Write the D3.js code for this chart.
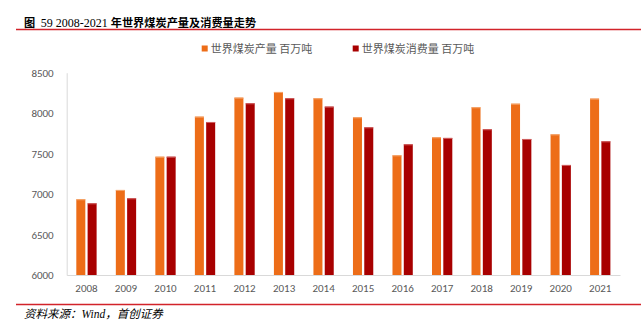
<!DOCTYPE html>
<html><head><meta charset="utf-8">
<script src="https://cdn.jsdelivr.net/npm/d3@7"></script>
<style>
body{margin:0;background:#fff;}
svg{display:block;}
</style></head>
<body>
<svg id="c" width="641" height="322"></svg>
<script>
const years = ["2008","2009","2010","2011","2012","2013","2014","2015","2016","2017","2018","2019","2020","2021"];
const production = [6936,7051,7462,7957,8192,8262,8184,7949,7479,7702,8073,8117,7738,8180];
const consumption = [6886,6948,7462,7891,8122,8184,8081,7825,7615,7694,7801,7681,7360,7652];
const yTicks = [6000,6500,7000,7500,8000,8500];
const seriesNames = ["世界煤炭产量 百万吨","世界煤炭消费量 百万吨"];
const colors = ["#ED6D18","#A80000"];

const svg = d3.select("#c");
const plotLeft = 66.7, plotRight = 620, plotTop = 72.7, plotBottom = 275;

const x = d3.scaleBand().domain(years).range([plotLeft, plotRight]).paddingInner(0).paddingOuter(0);
const y = d3.scaleLinear().domain([6000, 8500]).range([plotBottom, plotTop]);

// title
const title = svg.append("text").attr("x", 24).attr("y", 27)
  .attr("fill", "#000").style("white-space", "pre");
title.append("tspan").attr("font-family", "'Noto Sans CJK SC',sans-serif").attr("font-size", 11.2).attr("font-weight", "bold").text("图 ");
title.append("tspan").attr("font-family", "'Liberation Serif',serif").attr("font-size", 12).attr("font-weight", "normal").text(" 59 2008-2021 ");
title.append("tspan").attr("font-family", "'Noto Sans CJK SC',sans-serif").attr("font-size", 11.2).attr("font-weight", "bold").text("年世界煤炭产量及消费量走势");
svg.append("line").attr("x1", 16).attr("x2", 641).attr("y1", 29.5).attr("y2", 29.5)
  .attr("stroke", "#D2232A").attr("stroke-width", 1.3);

// legend
const legX = [201.7, 352.7];
seriesNames.forEach((n, i) => {
  svg.append("rect").attr("x", legX[i]).attr("y", 45.5).attr("width", 6).attr("height", 6).attr("fill", colors[i]);
  svg.append("text").attr("x", legX[i] + 9).attr("y", 52.5)
    .attr("font-family", "'Noto Sans CJK SC',sans-serif").attr("font-size", 11).attr("fill", "#595959")
    .text(n);
});

// y axis
const yAxis = d3.axisLeft(y).tickValues(yTicks).tickFormat(d3.format("d")).tickSize(0).tickPadding(13);
const gy = svg.append("g").attr("transform", `translate(${plotLeft},0)`).call(yAxis);
gy.select(".domain").attr("stroke", "#D9D9D9");
gy.selectAll("text").attr("font-family", "Calibri,'Liberation Sans','Open Sans',sans-serif")
  .attr("font-size", 11).attr("fill", "#595959");

// x axis
const xAxis = d3.axisBottom(x).tickSize(0).tickPadding(9);
const gx = svg.append("g").attr("transform", `translate(0,${plotBottom})`).call(xAxis);
gx.select(".domain").attr("stroke", "#D9D9D9");
gx.selectAll("text").attr("font-family", "Calibri,'Liberation Sans','Open Sans',sans-serif")
  .attr("font-size", 11).attr("fill", "#595959");

// bars
const bw = 9, gap = 2.3;
const data = years.map((yr, i) => ({yr, vals: [production[i], consumption[i]]}));
const g = svg.append("g");
const bx = (d, s) => x(d.yr) + x.bandwidth() / 2 + (s === 0 ? -(bw + gap / 2) : gap / 2);
[0, 1].forEach(s => {
  g.selectAll(null).data(data).enter().append("rect")
    .attr("x", d => bx(d, s))
    .attr("y", d => y(d.vals[s]))
    .attr("width", bw)
    .attr("height", d => plotBottom - y(d.vals[s]))
    .attr("fill", colors[s]);
  g.selectAll(null).data(data).enter().append("line")
    .attr("x1", d => bx(d, s))
    .attr("x2", d => bx(d, s) + bw)
    .attr("y1", d => y(d.vals[s]) + 0.5).attr("y2", d => y(d.vals[s]) + 0.5)
    .attr("stroke", s === 0 ? "#F5A76E" : "#D06060").attr("stroke-width", 1);
});

// footer
svg.append("line").attr("x1", 16).attr("x2", 641).attr("y1", 304.5).attr("y2", 304.5)
  .attr("stroke", "#D2232A").attr("stroke-width", 1.3);
svg.append("text").attr("x", 24).attr("y", 318)
  .attr("font-family", "'Liberation Serif','Noto Sans CJK SC',serif")
  .attr("font-style", "italic").attr("font-size", 11.5).attr("fill", "#000")
  .text("资料来源：Wind，首创证券");
</script>
</body></html>
